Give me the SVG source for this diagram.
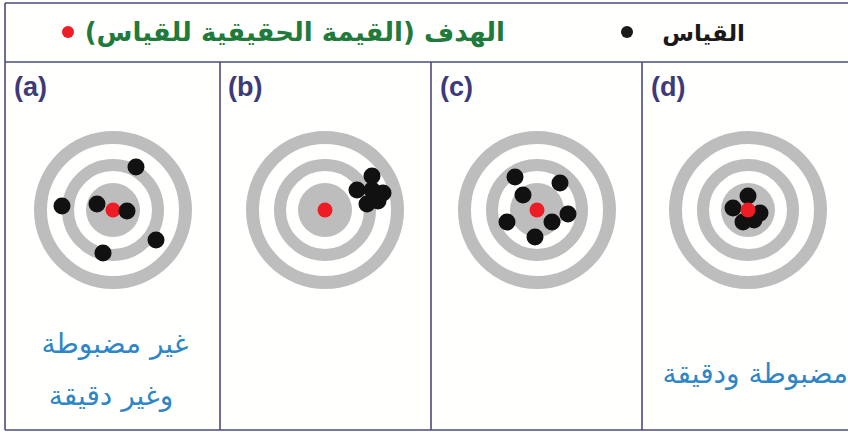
<svg xmlns="http://www.w3.org/2000/svg" width="848" height="432" viewBox="0 0 848 432">
<style>
.frame{fill:none;stroke:#4b4a7e;stroke-width:1.6}
.ring{fill:none;stroke:#bdbdbd}
.core{fill:#bdbdbd}
.hit{fill:#111}
.true{fill:#ee1c25}
.lbl{font-family:"Liberation Sans",Arial,sans-serif;font-weight:bold;font-size:27px;fill:#3e3a7a}
.ar{font-family:"DejaVu Sans","Noto Sans",sans-serif;}
.desc{font-size:28px;fill:#2f86c6}
</style>
<defs>
<g id="target">
<circle r="72.5" class="ring" stroke-width="13"/>
<circle r="45" class="ring" stroke-width="12"/>
<circle r="27" class="core"/>
</g>
</defs>
<rect x="0" y="0" width="848" height="432" fill="#fffffd"/>
<g id="header">
<line x1="5" y1="3" x2="848" y2="3" class="frame"/>
<line x1="5" y1="62" x2="848" y2="62" class="frame"/>
<text x="745" y="41" class="ar" font-size="23" font-weight="bold" fill="#1a1a1a" text-anchor="end">القياس</text>
<circle cx="627" cy="32" r="6" fill="#1a1a1a"/>
<text x="505" y="41" class="ar" font-size="26" font-weight="bold" fill="#1f7a3c" text-anchor="end">الهدف (القيمة الحقيقية للقياس)</text>
<circle cx="68" cy="32" r="6" class="true"/>
</g>
<g id="frames">
<line x1="5" y1="3" x2="5" y2="430" class="frame"/>
<line x1="5" y1="430" x2="848" y2="430" class="frame"/>
<line x1="220" y1="62" x2="220" y2="430" class="frame"/>
<line x1="431" y1="62" x2="431" y2="430" class="frame"/>
<line x1="642" y1="62" x2="642" y2="430" class="frame"/>
</g>
<g id="panel-a">
<text x="14" y="96" class="lbl">(a)</text>
<use href="#target" x="113" y="210"/>
<circle cx="113" cy="210" r="7.5" class="true"/>
<circle cx="136" cy="167" r="8.5" class="hit"/>
<circle cx="62" cy="206" r="8.5" class="hit"/>
<circle cx="97" cy="204" r="8.5" class="hit"/>
<circle cx="127" cy="211" r="8.5" class="hit"/>
<circle cx="156" cy="240" r="8.5" class="hit"/>
<circle cx="103" cy="253" r="8.5" class="hit"/>
<text x="115" y="353" class="ar desc" text-anchor="middle">غير مضبوطة</text>
<text x="111" y="405" class="ar desc" text-anchor="middle">وغير دقيقة</text>
</g>
<g id="panel-b">
<text x="228" y="96" class="lbl">(b)</text>
<use href="#target" x="325" y="210"/>
<circle cx="325" cy="210" r="7.5" class="true"/>
<circle cx="372" cy="176" r="8.5" class="hit"/>
<circle cx="357" cy="190" r="8.5" class="hit"/>
<circle cx="383" cy="193" r="8.5" class="hit"/>
<circle cx="372" cy="190" r="8.5" class="hit"/>
<circle cx="378" cy="201" r="8.5" class="hit"/>
<circle cx="367" cy="204" r="8.5" class="hit"/>
</g>
<g id="panel-c">
<text x="440" y="96" class="lbl">(c)</text>
<use href="#target" x="537" y="210"/>
<circle cx="537" cy="210" r="7.5" class="true"/>
<circle cx="515" cy="177" r="8.5" class="hit"/>
<circle cx="560" cy="183" r="8.5" class="hit"/>
<circle cx="523" cy="195" r="8.5" class="hit"/>
<circle cx="568" cy="214" r="8.5" class="hit"/>
<circle cx="507" cy="222" r="8.5" class="hit"/>
<circle cx="552" cy="222" r="8.5" class="hit"/>
<circle cx="535" cy="237" r="8.5" class="hit"/>
</g>
<g id="panel-d">
<text x="651" y="96" class="lbl">(d)</text>
<use href="#target" x="748" y="210"/>
<circle cx="748" cy="196" r="8.5" class="hit"/>
<circle cx="733" cy="208" r="8.5" class="hit"/>
<circle cx="760" cy="213" r="8.5" class="hit"/>
<circle cx="743" cy="222" r="8.5" class="hit"/>
<circle cx="754" cy="220" r="8.5" class="hit"/>
<circle cx="748" cy="210" r="7.5" class="true"/>
<text x="848" y="383" class="ar desc" text-anchor="end" font-size="29">مضبوطة ودقيقة</text>
</g>
</svg>
